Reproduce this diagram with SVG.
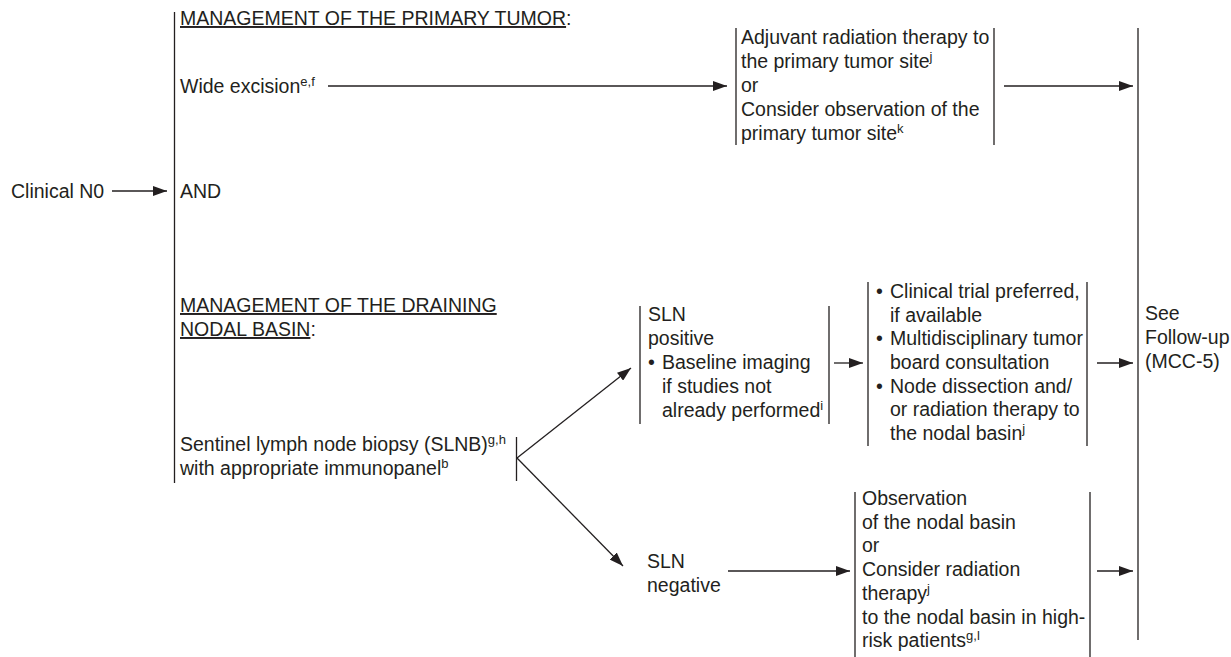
<svg xmlns="http://www.w3.org/2000/svg" width="1231" height="657" viewBox="0 0 1231 657">
<defs>
<marker id="ah" viewBox="0 0 14 10" refX="14" refY="5" markerWidth="14" markerHeight="10" markerUnits="userSpaceOnUse" orient="auto">
<path d="M0,0 L14,5 L0,10 z" fill="#231f20"/>
</marker>
<style>
text{font-family:"Liberation Sans",Arial,sans-serif;font-size:19.5px;fill:#231f20}
.sup{font-size:13px}
.u{text-decoration:underline}
.bar{stroke:#231f20;stroke-width:1.3;fill:none}
.arr{stroke:#231f20;stroke-width:1.3;fill:none;marker-end:url(#ah)}
</style>
</defs>
<rect width="1231" height="657" fill="#fff"/>
<g id="connectors">
<line class="arr" x1="112" y1="191" x2="167" y2="191"/>
<line class="arr" x1="328" y1="86" x2="727" y2="86"/>
<line class="arr" x1="1004" y1="86" x2="1133" y2="86"/>
<line class="arr" x1="517" y1="458" x2="631" y2="368"/>
<line class="arr" x1="517" y1="458" x2="623" y2="566"/>
<line class="arr" x1="834" y1="363" x2="863" y2="363"/>
<line class="arr" x1="1097" y1="363" x2="1133" y2="363"/>
<line class="arr" x1="728" y1="571" x2="850" y2="571"/>
<line class="arr" x1="1097" y1="571" x2="1133" y2="571"/>
</g>
<g id="clinical-n0">
<text x="11" y="198">Clinical N0</text>
</g>
<g id="management">
<line class="bar" x1="174.5" y1="12" x2="174.5" y2="483"/>
<text x="180" y="25"><tspan class="u">MANAGEMENT OF THE PRIMARY TUMOR</tspan>:</text>
<text x="180" y="93">Wide excision<tspan class="sup" dy="-7">e,f</tspan></text>
<text x="180" y="198">AND</text>
<text x="180" y="312"><tspan class="u">MANAGEMENT OF THE DRAINING</tspan></text>
<text x="180" y="336"><tspan class="u">NODAL BASIN</tspan>:</text>
</g>
<g id="slnb">
<text x="180" y="451">Sentinel lymph node biopsy (SLNB)<tspan class="sup" dy="-7">g,h</tspan></text>
<text x="180" y="475">with appropriate immunopanel<tspan class="sup" dy="-7">b</tspan></text>
<line class="bar" x1="516.5" y1="437" x2="516.5" y2="481"/>
</g>
<g id="primary-site">
<line class="bar" x1="736" y1="28" x2="736" y2="145"/>
<line class="bar" x1="994" y1="28" x2="994" y2="145"/>
<text x="741" y="44">Adjuvant radiation therapy to</text>
<text x="741" y="68">the primary tumor site<tspan class="sup" dy="-7">j</tspan></text>
<text x="741" y="92">or</text>
<text x="741" y="116">Consider observation of the</text>
<text x="741" y="140">primary tumor site<tspan class="sup" dy="-7">k</tspan></text>
</g>
<g id="sln-positive">
<line class="bar" x1="640" y1="306" x2="640" y2="424"/>
<line class="bar" x1="829" y1="306" x2="829" y2="424"/>
<text x="648" y="321">SLN</text>
<text x="648" y="345">positive</text>
<text x="648" y="369">•</text>
<text x="662" y="369">Baseline imaging</text>
<text x="662" y="393">if studies not</text>
<text x="662" y="417">already performed<tspan class="sup" dy="-7">i</tspan></text>
</g>
<g id="nodal-treatment">
<line class="bar" x1="868" y1="282" x2="868" y2="446"/>
<line class="bar" x1="1087" y1="282" x2="1087" y2="446"/>
<text x="876" y="298">•</text>
<text x="890" y="298">Clinical trial preferred,</text>
<text x="890" y="322">if available</text>
<text x="876" y="345">•</text>
<text x="890" y="345">Multidisciplinary tumor</text>
<text x="890" y="369">board consultation</text>
<text x="876" y="393">•</text>
<text x="890" y="393">Node dissection and/</text>
<text x="890" y="416">or radiation therapy to</text>
<text x="890" y="440">the nodal basin<tspan class="sup" dy="-7">j</tspan></text>
</g>
<g id="sln-negative">
<text x="647" y="568">SLN</text>
<text x="647" y="592">negative</text>
</g>
<g id="observation">
<line class="bar" x1="855" y1="492" x2="855" y2="657"/>
<line class="bar" x1="1090" y1="492" x2="1090" y2="657"/>
<text x="862" y="505">Observation</text>
<text x="862" y="529">of the nodal basin</text>
<text x="862" y="552">or</text>
<text x="862" y="576">Consider radiation</text>
<text x="862" y="600">therapy<tspan class="sup" dy="-7">j</tspan></text>
<text x="862" y="624">to the nodal basin in high-</text>
<text x="862" y="647">risk patients<tspan class="sup" dy="-7">g,l</tspan></text>
</g>
<g id="follow-up">
<line class="bar" x1="1138" y1="28" x2="1138" y2="640"/>
<text x="1145" y="320">See</text>
<text x="1145" y="344">Follow-up</text>
<text x="1145" y="368">(MCC-5)</text>
</g>
</svg>
